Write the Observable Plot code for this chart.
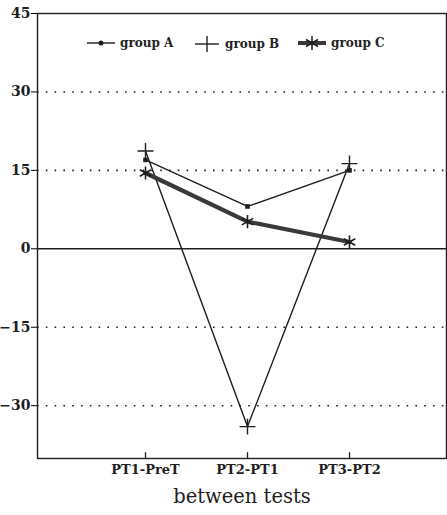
<!DOCTYPE html>
<html>
<head>
<meta charset="utf-8">
<script src="https://cdn.jsdelivr.net/npm/d3@7"></script>
<script src="https://cdn.jsdelivr.net/npm/@observablehq/plot@0.6"></script>
<style>
  body { margin: 0; background: #fff; }
  #wrap { position: relative; width: 447px; height: 515px; }
  .leg { position: absolute; top: 35px; display: flex; align-items: center; font-family: "DejaVu Serif", serif; font-weight: bold; font-size: 12px; color: #222; }
  .leg svg { margin-right: 4px; }
</style>
</head>
<body>
<div id="wrap"></div>
<script>
const categories = ["PT1-PreT", "PT2-PT1", "PT3-PT2"];
const groupA = [17.0, 8.1, 15.0];
const groupB = [18.7, -34.0, 16.3];
const groupC = [14.5, 5.2, 1.3];
const yTicks = [45, 30, 15, 0, -15, -30];
const gridValues = [30, 15, -15, -30];
const groupNames = ["group A", "group B", "group C"];
const xTitle = "between tests";

const yMin = -40.1, yMax = 45;
const rows = (vals, g) => categories.map((c, i) => ({test: c, value: vals[i], group: g}));
const A = rows(groupA, groupNames[0]);
const B = rows(groupB, groupNames[1]);
const C = rows(groupC, groupNames[2]);

const serif = "DejaVu Serif";
const ink = "#1e1e1e";

const chart = Plot.plot({
  width: 447,
  height: 515,
  marginLeft: 37,
  marginRight: 1,
  marginTop: 13,
  marginBottom: 57,
  style: {background: "transparent", fontFamily: serif},
  x: {type: "point", domain: categories, range: [42, 452], padding: 1, axis: null},
  y: {domain: [yMin, yMax], ticks: yTicks, tickSize: 6, tickFormat: () => "", label: null},
  marks: [
    Plot.ruleY(gridValues, {stroke: ink, strokeWidth: 1.6, strokeDasharray: "1.6,7.2"}),
    Plot.ruleY([0], {stroke: ink, strokeWidth: 1.6}),
    Plot.frame({stroke: ink, strokeWidth: 1.4}),
    Plot.ruleX(categories, {x: d => d, y1: yMin, y2: yMin + 1.1, stroke: ink, strokeWidth: 1.3}),
    Plot.text(yTicks, {y: d => d, frameAnchor: "left", dx: -7, textAnchor: "end", text: d => String(d).replace("-", "\u2212"), fontSize: 14, fontWeight: "bold", fontFamily: serif, fill: ink}),
    Plot.text(categories, {x: d => d, frameAnchor: "bottom", dy: 15, text: d => d, fontSize: 13, fontWeight: "bold", fontFamily: serif, fill: ink}),
    Plot.text([xTitle], {frameAnchor: "bottom", dy: 44, text: d => d, fontSize: 19.5, fontFamily: serif, fill: ink}),
    Plot.line(B, {x: "test", y: "value", stroke: ink, strokeWidth: 1.4}),
    Plot.line(A, {x: "test", y: "value", stroke: ink, strokeWidth: 1.4}),
    Plot.line(C, {x: "test", y: "value", stroke: "#3a3a3a", strokeWidth: 4.2}),
    Plot.dot(A, {x: "test", y: "value", r: 2.6, fill: ink, stroke: "none", symbol: "square"}),
    Plot.dot(B, {x: "test", y: "value", r: 5.2, symbol: "plus", stroke: ink, strokeWidth: 1.4}),
    Plot.dot(C, {x: "test", y: "value", r: 6.2, symbol: "asterisk", stroke: ink, strokeWidth: 1.6})
  ]
});

const wrap = document.getElementById("wrap");
wrap.appendChild(chart);

// legend overlay
const icons = [
  `<svg width="30" height="16"><line x1="1" y1="8" x2="29" y2="8" stroke="${ink}" stroke-width="1.4"/><circle cx="15" cy="8" r="2.5" fill="${ink}"/></svg>`,
  `<svg width="28" height="18"><line x1="2" y1="9" x2="26" y2="9" stroke="${ink}" stroke-width="1.4"/><line x1="14" y1="1" x2="14" y2="17" stroke="${ink}" stroke-width="1.4"/></svg>`,
  `<svg width="30" height="16"><line x1="1" y1="8" x2="29" y2="8" stroke="#3a3a3a" stroke-width="4"/><g stroke="${ink}" stroke-width="1.5"><line x1="15" y1="1" x2="15" y2="15"/><line x1="9" y1="4.5" x2="21" y2="11.5"/><line x1="9" y1="11.5" x2="21" y2="4.5"/></g></svg>`
];
const lefts = [86, 193, 297];
groupNames.forEach((name, i) => {
  const d = document.createElement("div");
  d.className = "leg";
  d.style.left = lefts[i] + "px";
  d.innerHTML = icons[i] + `<span>${name}</span>`;
  wrap.appendChild(d);
});
</script>
</body>
</html>
